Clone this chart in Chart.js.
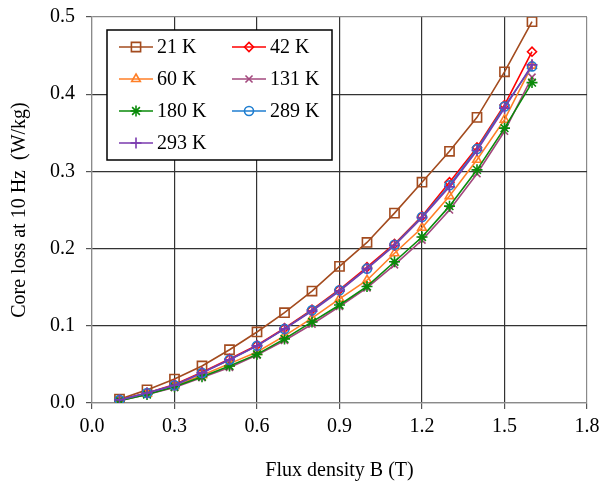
<!DOCTYPE html>
<html>
<head>
<meta charset="utf-8">
<script src="https://cdn.jsdelivr.net/npm/chart.js@4/dist/chart.umd.min.js"></script>
<style>
  body { margin: 0; background: #fff; }
  canvas { display: block; }
</style>
</head>
<body>
<canvas id="coreLoss" width="602" height="485"></canvas>
<script>
// flux density (T) and core loss (W/kg) at 10 Hz for each temperature
var fluxB = [0.1, 0.2, 0.3, 0.4, 0.5, 0.6, 0.7, 0.8, 0.9, 1.0, 1.1, 1.2, 1.3, 1.4, 1.5, 1.6];
var loss21 = [0.005, 0.017, 0.031, 0.048, 0.069, 0.092, 0.117, 0.145, 0.177, 0.208, 0.246, 0.286, 0.326, 0.370, 0.429, 0.494];
var loss42 = [0.004, 0.013, 0.024, 0.040, 0.057, 0.075, 0.097, 0.121, 0.147, 0.176, 0.206, 0.242, 0.286, 0.331, 0.386, 0.455];
var loss60 = [0.003, 0.012, 0.022, 0.036, 0.051, 0.066, 0.087, 0.110, 0.135, 0.159, 0.194, 0.227, 0.268, 0.315, 0.367, 0.437];
var loss131 = [0.003, 0.011, 0.020, 0.033, 0.046, 0.062, 0.081, 0.102, 0.125, 0.149, 0.179, 0.211, 0.250, 0.297, 0.352, 0.422];
var loss180 = [0.003, 0.011, 0.021, 0.034, 0.048, 0.063, 0.083, 0.105, 0.127, 0.151, 0.183, 0.215, 0.255, 0.302, 0.356, 0.415];
var loss289 = [0.004, 0.013, 0.023, 0.039, 0.056, 0.074, 0.096, 0.120, 0.146, 0.174, 0.205, 0.241, 0.282, 0.329, 0.384, 0.436];
var loss293 = [0.004, 0.013, 0.023, 0.039, 0.056, 0.074, 0.096, 0.119, 0.145, 0.174, 0.204, 0.240, 0.280, 0.327, 0.382, 0.438];

var xTicks = [0.0, 0.3, 0.6, 0.9, 1.2, 1.5, 1.8];
var yTicks = [0.0, 0.1, 0.2, 0.3, 0.4, 0.5];

var serif = "'Liberation Serif', 'Times New Roman', serif";

function points(vals) {
    var out = [];
    for (var i = 0; i < fluxB.length; i++) {
        out.push({ x: fluxB[i], y: vals[i] });
    }
    return out;
}

function series(label, vals, color, style, radius) {
    return {
        label: label,
        data: points(vals),
        borderColor: color,
        backgroundColor: color,
        borderWidth: 1.6,
        pointStyle: style,
        pointRadius: radius,
        pointBorderWidth: 1.6,
        pointBorderColor: color,
        pointBackgroundColor: 'rgba(0,0,0,0)',
        tension: 0
    };
}

var datasets = [
    series('21 K', loss21, '#A34B1E', 'rect', 6.5),
    series('42 K', loss42, '#FF0000', 'rectRot', 4.5),
    series('60 K', loss60, '#FF7F27', 'triangle', 5),
    series('131 K', loss131, '#A3487E', 'crossRot', 5),
    series('180 K', loss180, '#0A8A0A', 'star', 5.5),
    series('289 K', loss289, '#1F7ED0', 'circle', 4.5),
    series('293 K', loss293, '#7A3AAE', 'cross', 5.5)
];
// later series are painted over earlier ones
datasets.forEach(function (ds, i) { ds.order = datasets.length - i; });

// boxed two-column legend in the upper left of the plot
var legendBox = {
    id: 'legendBox',
    afterDraw: function (chart) {
        var ctx = chart.ctx;
        var area = chart.chartArea;
        var bx = area.left + 15, by = area.top + 13, bw = 225, bh = 130;
        ctx.save();
        ctx.fillStyle = '#ffffff';
        ctx.fillRect(bx, by, bw, bh);
        ctx.strokeStyle = '#000000';
        ctx.lineWidth = 1.5;
        ctx.strokeRect(bx, by, bw, bh);
        ctx.font = '20px ' + serif;
        ctx.textBaseline = 'middle';
        chart.data.datasets.forEach(function (ds, i) {
            var col = i % 2, row = Math.floor(i / 2);
            var x0 = bx + (col ? 125 : 12);
            var y = by + 17 + row * 32;
            ctx.strokeStyle = ds.borderColor;
            ctx.lineWidth = ds.borderWidth;
            ctx.beginPath();
            ctx.moveTo(x0, y);
            ctx.lineTo(x0 + 34, y);
            ctx.stroke();
            ctx.fillStyle = 'rgba(0,0,0,0)';
            ctx.lineWidth = ds.pointBorderWidth;
            Chart.helpers.drawPoint(ctx, {
                pointStyle: ds.pointStyle,
                radius: ds.pointRadius,
                borderWidth: ds.pointBorderWidth,
                rotation: 0
            }, x0 + 17, y);
            ctx.fillStyle = '#000000';
            ctx.fillText(ds.label, x0 + 38, y + 1);
        });
        ctx.restore();
    }
};

function gridColor(ctx) {
    var n = ctx.scale.ticks.length;
    return (ctx.index === 0 || ctx.index === n - 1) ? '#8a8a8a' : '#333333';
}

new Chart(document.getElementById('coreLoss'), {
    type: 'line',
    data: { datasets: datasets },
    options: {
        responsive: false,
        animation: false,
        layout: { padding: { top: 17, right: 15, left: 0, bottom: 0 } },
        plugins: {
            legend: { display: false },
            tooltip: { enabled: false }
        },
        scales: {
            x: {
                type: 'linear',
                min: 0,
                max: 1.8,
                afterBuildTicks: function (scale) {
                    scale.ticks = xTicks.map(function (v) { return { value: v }; });
                },
                afterFit: function (scale) {
                    scale.height = 82;
                    scale.paddingLeft = 0;
                    scale.paddingRight = 0;
                },
                ticks: {
                    color: '#000',
                    padding: 6,
                    maxRotation: 0,
                    font: { family: serif, size: 20 },
                    callback: function (v) { return v.toFixed(1); }
                },
                grid: { color: gridColor, tickColor: '#555', tickLength: 6, lineWidth: 1.2 },
                border: { color: '#8a8a8a', width: 1.2 },
                title: {
                    display: true,
                    text: 'Flux density B (T)',
                    color: '#000',
                    font: { family: serif, size: 20 },
                    padding: { top: 0, bottom: 2 }
                }
            },
            y: {
                type: 'linear',
                min: 0,
                max: 0.5,
                afterBuildTicks: function (scale) {
                    scale.ticks = yTicks.map(function (v) { return { value: v }; });
                },
                afterFit: function (scale) {
                    scale.width = 92;
                    scale.paddingTop = 0;
                    scale.paddingBottom = 0;
                },
                ticks: {
                    color: '#000',
                    padding: 11,
                    font: { family: serif, size: 20 },
                    callback: function (v) { return v.toFixed(1); }
                },
                grid: { color: gridColor, tickColor: '#555', tickLength: 6, lineWidth: 1.2 },
                border: { color: '#8a8a8a', width: 1.2 },
                title: {
                    display: true,
                    text: 'Core loss at 10 Hz  (W/kg)',
                    color: '#000',
                    font: { family: serif, size: 20 },
                    padding: { top: 8, bottom: 0 }
                }
            }
        }
    },
    plugins: [legendBox]
});
</script>
</body>
</html>
